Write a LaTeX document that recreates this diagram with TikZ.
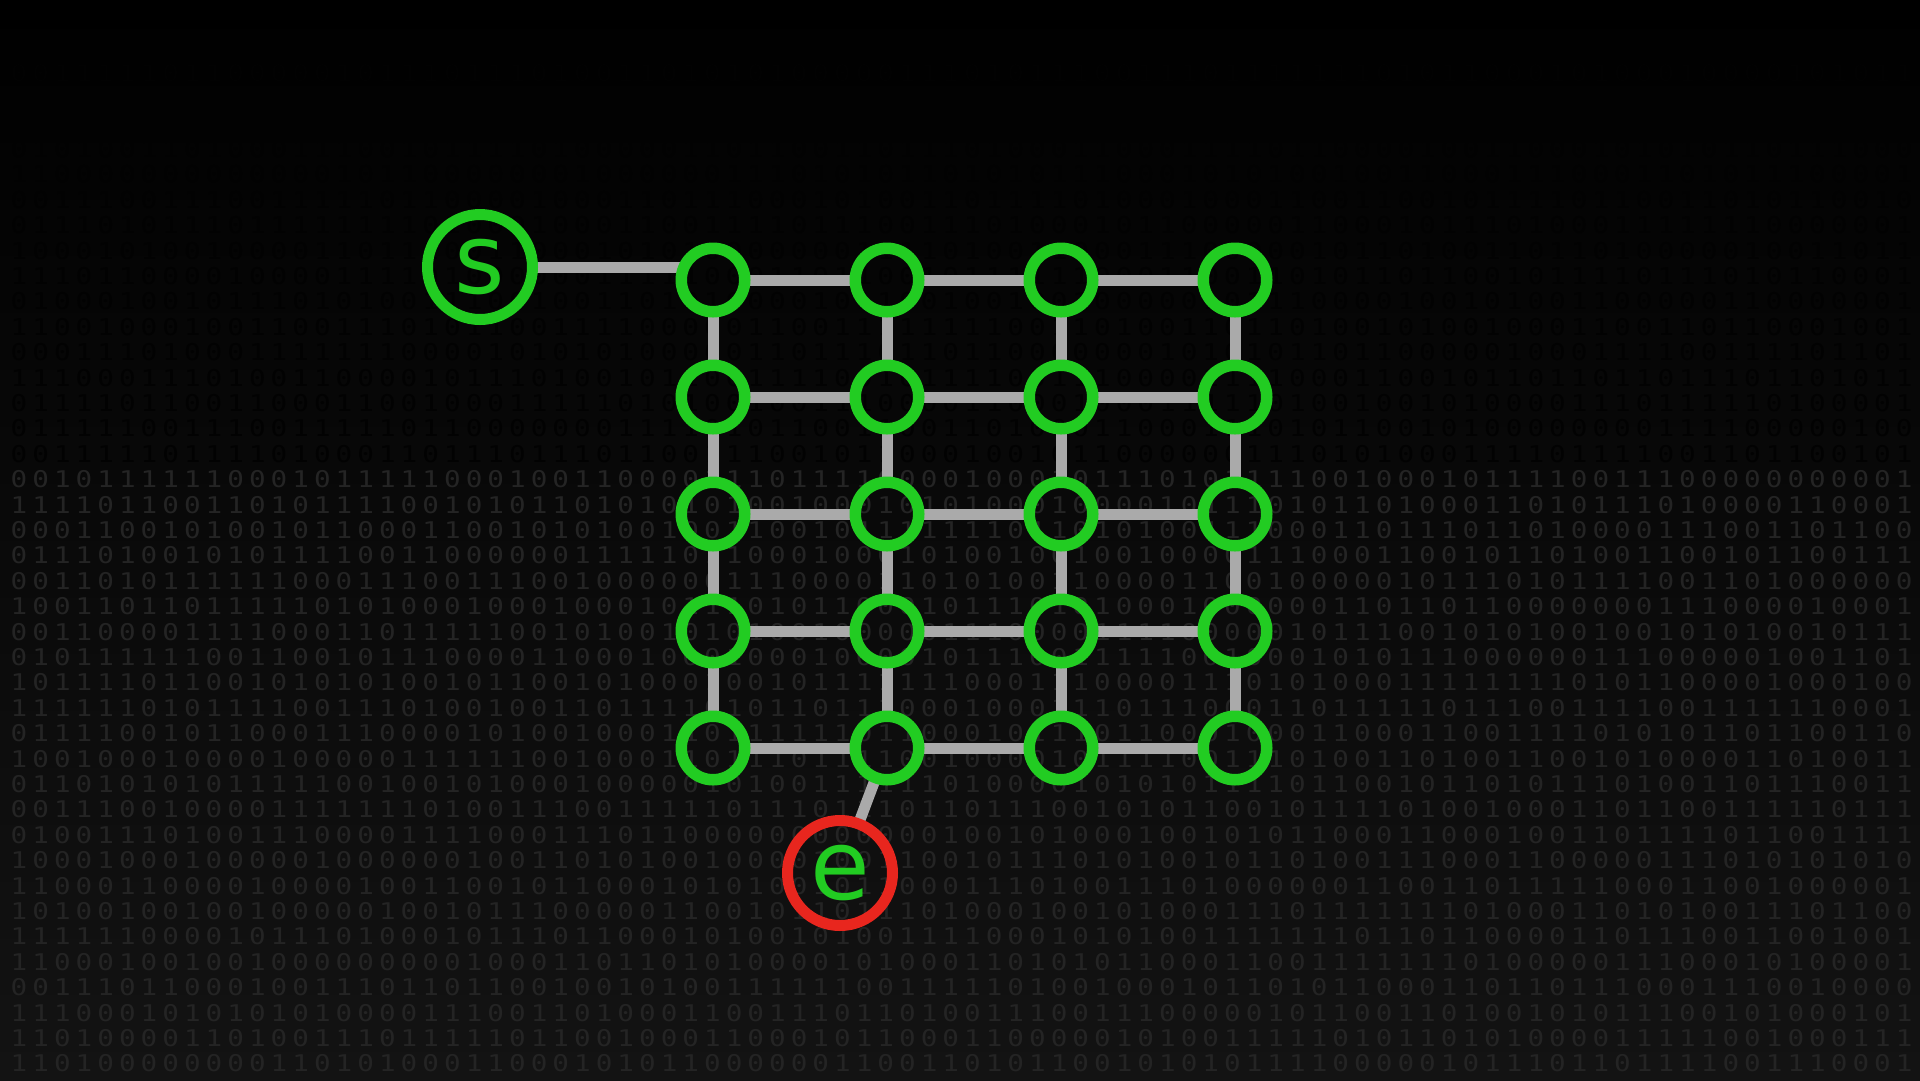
\documentclass[tikz,border=0pt]{standalone}
\usepackage{fontspec}
\setmainfont{DejaVu Sans}
\newfontfamily\bitfont[FakeStretch=1.2]{DejaVu Sans Mono}
\usetikzlibrary{positioning}
\definecolor{NodeGreen}{RGB}{34,204,34}
\definecolor{EndRed}{RGB}{232,38,30}
\definecolor{EdgeGray}{RGB}{170,170,170}
\definecolor{BitGray}{RGB}{36,36,36}
\definecolor{BitDark}{RGB}{2,2,2}
\definecolor{BgMid}{RGB}{11,11,11}
\definecolor{BgLow}{RGB}{19,19,19}
\pgfdeclarelayer{backdrop}
\pgfdeclarelayer{wires}
\pgfsetlayers{backdrop,wires,main}

\begin{document}
\begin{tikzpicture}[x=1pt, y=-1pt,
  dot/.style={circle, draw=NodeGreen, line width=11.5pt, minimum size=63.5pt, inner sep=0pt},
  endnode/.style={circle, draw=#1, line width=11pt, minimum size=105pt, inner sep=0pt, text=NodeGreen, font=\fontsize{97}{97}\selectfont},
  link/.style={draw=EdgeGray, line width=11pt, shorten <=-4pt, shorten >=-4pt},
  bits/.style={anchor=west, inner sep=0pt, font=\bitfont\fontsize{23}{23}\selectfont}]
  \useasboundingbox (0,0) rectangle (1920,1080);

  \begin{pgfonlayer}{backdrop}
    \shade[top color=black, middle color=BgMid, bottom color=BgLow] (0,0) rectangle (1920,1080);
    \pgfmathsetseed{42}
    \foreach \row in {0,...,39}{
      \gdef\bitline{}
      \foreach \col in {1,...,88}{
        \pgfmathrandominteger{\bitval}{0}{1}
        \xdef\bitline{\bitline\hbox to 21.67pt{\hss\bitval\hss}}
      }
      \ifnum\row<16
        \node[bits, text=BitDark] (bits-\row) at (8, {73+25.4*\row}) {\bitline};
      \else
        \node[bits, text=BitGray] (bits-\row) at (8, {73+25.4*\row}) {\bitline};
      \fi
    }
  \end{pgfonlayer}

  \foreach \row in {1,...,5}
    \foreach \col in {1,...,4}
      \node[dot] (n-\row-\col) at ({713+174*(\col-1)}, {280+117*(\row-1)}) {};

  \node[endnode=NodeGreen] (s) at (480,267) {s};
  \node[endnode=EndRed] (e) at (840,873) {e};

  \begin{pgfonlayer}{wires}
    \foreach \row in {1,...,5}
      \foreach \col/\nxt in {1/2,2/3,3/4}
        \draw[link] (n-\row-\col) -- (n-\row-\nxt);
    \foreach \col in {1,...,4}
      \foreach \row/\nxt in {1/2,2/3,3/4,4/5}
        \draw[link] (n-\row-\col) -- (n-\nxt-\col);
    \draw[link] (s) -- (s -| n-1-1.west);
    \draw[link] (n-5-2) -- (e);
  \end{pgfonlayer}
\end{tikzpicture}
\end{document}
